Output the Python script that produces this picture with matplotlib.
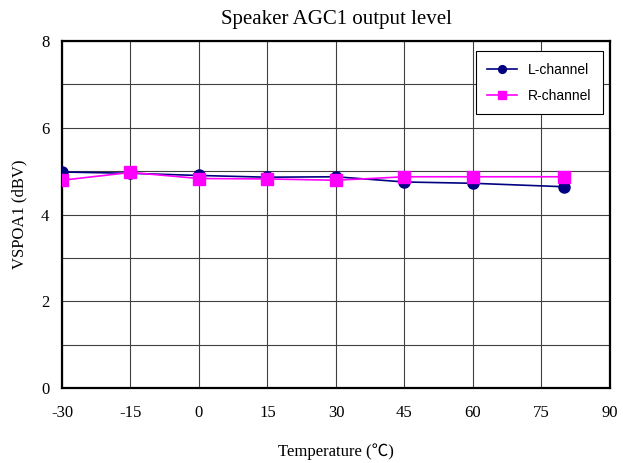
import matplotlib
matplotlib.use("Agg")
import matplotlib.pyplot as plt

plt.rcParams['axes.unicode_minus'] = False

temps = [-30, -15, 0, 15, 30, 45, 60, 80]
l_channel = [4.98, 4.95, 4.90, 4.86, 4.87, 4.75, 4.72, 4.64]
r_channel = [4.79, 4.97, 4.83, 4.82, 4.79, 4.87, 4.87, 4.87]
x_ticks = [-30, -15, 0, 15, 30, 45, 60, 75, 90]
y_ticks = [0, 2, 4, 6, 8]

serif = ['Liberation Serif', 'DejaVu Serif']
fig = plt.figure(figsize=(6.23, 4.63), dpi=100)
ax = fig.add_axes([0.0995, 0.162, 0.8795, 0.7494])

ax.plot(temps, l_channel, color='#000080', marker='o', markersize=8, lw=1.2, label='L-channel', zorder=3)
ax.plot(temps, r_channel, color='#FF00FF', marker='s', markersize=9, lw=1.2, label='R-channel', zorder=4)

ax.set_xlim(-30, 90)
ax.set_ylim(0, 8)
ax.set_xticks(x_ticks)
ax.set_yticks(y_ticks)
ax.set_yticks(range(0, 9), minor=True)
ax.grid(True, which='both', color='#404040', lw=0.8)
ax.tick_params(which='both', length=0)
ax.tick_params(axis='x', pad=12)
ax.tick_params(axis='y', pad=9)
for lab in ax.get_xticklabels() + ax.get_yticklabels():
    lab.set_family(serif)
    lab.set_fontsize(12)
for s in ax.spines.values():
    s.set_linewidth(1.6)

ax.set_title('Speaker AGC1 output level', family=serif, fontsize=15, pad=12)
ax.set_ylabel('VSPOA1 (dBV)', family=serif, fontsize=12, labelpad=10)
ax.set_xlabel('Temperature (℃)', family=['Liberation Serif', 'Noto Sans CJK JP'], fontsize=12, labelpad=16)

leg = ax.legend(loc='upper right', bbox_to_anchor=(1.0, 0.99), prop={'family': 'Liberation Sans', 'size': 10},
                fancybox=False, edgecolor='black', framealpha=1, markerscale=0.7, handlelength=2.2,
                borderpad=0.8, labelspacing=0.9)
leg.get_frame().set_linewidth(0.8)

fig.savefig('out.png', dpi=100)
